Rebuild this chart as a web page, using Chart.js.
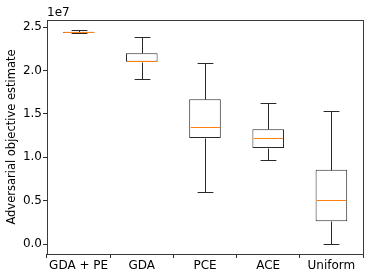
<!DOCTYPE html>
<html lang="en">
<head>
    <meta charset="UTF-8">
    <title>Adversarial objective estimate</title>
    <style>
        body { margin: 0; background: #fff; }
        #wrap { width: 374px; height: 280px; }
    </style>
</head>
<body>
<script src="https://cdn.jsdelivr.net/npm/chart.js"></script>
<div id="wrap"><canvas id="c"></canvas></div>
<script>
    const categories = ['GDA + PE', 'GDA', 'PCE', 'ACE', 'Uniform'];
    // box plot stats, in units of 1e7
    const whiskerLow  = [2.430, 1.905, 0.603, 0.968, 0.003];
    const q1          = [2.435, 2.100, 1.221, 1.106, 0.261];
    const median      = [2.439, 2.105, 1.348, 1.221, 0.510];
    const q3          = [2.445, 2.197, 1.667, 1.321, 0.856];
    const whiskerHigh = [2.462, 2.385, 2.080, 1.628, 1.536];
    const yTicks = [0, 0.5, 1.0, 1.5, 2.0, 2.5];

    const SCALE = 1e7;
    const lineColor = '#2a2a2a';

    const boxPlugin = {
        id: 'boxExtras',
        afterDatasetsDraw(chart) {
            const ctx = chart.ctx;
            const x = chart.scales.x, y = chart.scales.y;
            const meta = chart.getDatasetMeta(0);
            ctx.save();
            ctx.lineWidth = 1;
            categories.forEach((c, i) => {
                const cx = Math.round(x.getPixelForValue(i)) + 0.5;
                const w = meta.data[i].width;
                const yp = v => Math.round(y.getPixelForValue(v * SCALE)) + 0.5;
                ctx.strokeStyle = lineColor;
                ctx.beginPath();
                ctx.moveTo(cx, yp(q3[i])); ctx.lineTo(cx, yp(whiskerHigh[i]));
                ctx.moveTo(cx, yp(q1[i])); ctx.lineTo(cx, yp(whiskerLow[i]));
                ctx.moveTo(cx - w / 4, yp(whiskerHigh[i])); ctx.lineTo(cx + w / 4, yp(whiskerHigh[i]));
                ctx.moveTo(cx - w / 4, yp(whiskerLow[i])); ctx.lineTo(cx + w / 4, yp(whiskerLow[i]));
                ctx.stroke();
                ctx.strokeStyle = '#ff7f0e';
                ctx.beginPath();
                ctx.moveTo(cx - w / 2 + 1, yp(median[i])); ctx.lineTo(cx + w / 2 - 1, yp(median[i]));
                ctx.stroke();
            });
            // frame
            const a = chart.chartArea;
            ctx.strokeStyle = '#3a3a3a';
            ctx.strokeRect(Math.round(a.left) + 0.5, Math.round(a.top) + 0.5,
                Math.round(a.right - a.left), Math.round(a.bottom - a.top));
            // offset text
            ctx.fillStyle = '#000';
            ctx.font = '12px "DejaVu Sans"';
            ctx.textAlign = 'left';
            ctx.textBaseline = 'bottom';
            ctx.fillText('1e7', a.left, a.top - 1);
            ctx.restore();
        }
    };

    new Chart(document.getElementById('c'), {
        type: 'bar',
        data: {
            labels: categories,
            datasets: [{
                data: categories.map((c, i) => [q1[i] * SCALE, q3[i] * SCALE]),
                backgroundColor: '#fff',
                borderColor: lineColor,
                borderWidth: 1,
                borderSkipped: false,
                barPercentage: 0.5,
                categoryPercentage: 1.0
            }]
        },
        options: {
            responsive: true,
            maintainAspectRatio: false,
            animation: false,
            layout: { padding: { top: 20, right: 11, left: 0, bottom: 0 } },
            plugins: { legend: { display: false }, tooltip: { enabled: false } },
            scales: {
                x: {
                    grid: { display: true, drawOnChartArea: false, tickLength: 4, color: lineColor },
                    border: { display: false },
                    ticks: {
                        color: '#000', font: { family: 'DejaVu Sans', size: 12 }, padding: 1,
                        maxRotation: 0, minRotation: 0, autoSkip: false
                    },
                    afterFit: s => { s.height = 26; }
                },
                y: {
                    min: -0.115 * SCALE,
                    max: 2.581 * SCALE,
                    afterBuildTicks: s => { s.ticks = yTicks.map(v => ({ value: v * SCALE })); },
                    grid: { display: true, drawOnChartArea: false, tickLength: 4, color: lineColor },
                    border: { display: false },
                    ticks: {
                        color: '#000', font: { family: 'DejaVu Sans', size: 12 }, padding: 1,
                        callback: v => (v / SCALE).toFixed(1)
                    },
                    title: {
                        display: true, text: 'Adversarial objective estimate', color: '#000',
                        font: { family: 'DejaVu Sans', size: 11.5 }, padding: { top: 5, bottom: 3 }
                    },
                    afterFit: s => { s.width = 47; }
                }
            }
        },
        plugins: [boxPlugin]
    });
</script>
</body>
</html>
